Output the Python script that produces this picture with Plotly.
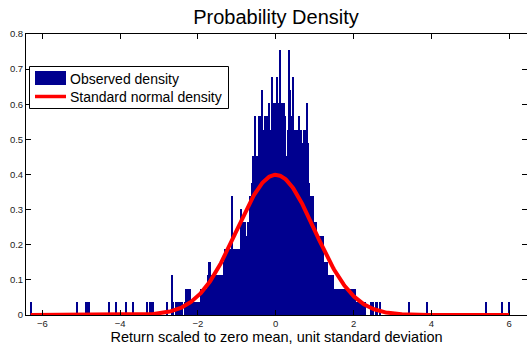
import numpy as np
import plotly.graph_objects as go

# ---- data ----
# central histogram: counts per bin, bins starting at BIN_START with width BIN_WIDTH
BIN_START = -2.66
BIN_WIDTH = 0.0257
central_counts = [
    3, 1, 0, 0, 1, 1, 1, 1, 1, 1, 1, 0, 0, 1, 2, 2, 1, 2, 2, 1,   # 172-191
    1, 1, 0, 1, 1, 1, 1, 1, 0, 2, 2, 2, 1, 2, 2, 1, 3, 4, 4, 2,   # 192-211
    3, 3, 3, 1, 3, 3, 3, 2, 3, 3, 3, 1, 4, 5, 5, 5, 4, 5, 1, 5,   # 212-231
    9, 5, 5, 5, 4, 5, 1, 5, 5, 8, 6, 7, 6, 7, 4, 6, 7, 6, 9, 7,   # 232-251
    10, 12, 12, 15, 12, 12, 12, 15, 15, 11, 17, 13, 14, 15, 6, 15, 14, 16, 13, 14,  # 252-271
    18, 14, 16, 16, 6, 18, 16, 15, 20, 16, 16, 16, 16, 15, 11, 12, 14, 20, 17, 8,   # 272-291
    15, 18, 14, 11, 14, 14, 12, 15, 13, 14, 12, 13, 14, 14, 12, 16, 13, 10, 9, 9,   # 292-311
    3, 9, 7, 7, 7, 5, 6, 3, 6, 6, 6, 6, 4, 3, 4, 4, 3, 3, 3, 3,   # 312-331
    2, 3, 1, 2, 2, 2, 1, 2, 2, 1, 2, 2, 2, 1, 2, 2, 1, 2, 2, 2,   # 332-351
    1, 2, 1, 2, 1, 1, 0, 1, 1, 0, 1, 1, 0, 1, 0, 0, 0, 0, 0, 1,   # 352-371
    1, 1, 0, 0, 1, 1, 0, 0, 1,                                     # 372-380
]
# isolated tail observations (one per bin)
tail_positions = [-6.30, -5.12, -4.88, -4.84, -4.79, -4.28, -4.11, -3.85, -3.66,
                  -3.30, -3.23, -3.19, -3.16, -2.79, 3.43, 3.88, 5.40, 5.83, 6.00]
tail_counts = [1] * len(tail_positions)
DENSITY_PER_COUNT = 0.0377

y_ticks = [0, 0.1, 0.2, 0.3, 0.4, 0.5, 0.6, 0.7, 0.8]
y_ticklabels = ["0", "0.1", "0.2", "0.3", "0.4", "0.5", "0.6", "0.7", "0.8"]
x_ticks = [-6, -4, -2, 0, 2, 4, 6]

title = "Probability Density"
xlabel = "Return scaled to zero mean, unit standard deviation"
legend_labels = ["Observed density", "Standard normal density"]

# ---- build ----
centers = [BIN_START + i * BIN_WIDTH for i in range(len(central_counts))] + tail_positions
counts = central_counts + tail_counts
density = [c * DENSITY_PER_COUNT for c in counts]

xmin, xmax = min(tail_positions), max(tail_positions)
xs = np.linspace(xmin, xmax, 600)
pdf = np.exp(-xs ** 2 / 2) / np.sqrt(2 * np.pi)

FONT = "Liberation Sans, Arial, Helvetica, sans-serif"
BLUE = "#00008F"

fig = go.Figure()
fig.add_trace(go.Bar(x=centers, y=density, width=BIN_WIDTH, name=legend_labels[0],
                     marker=dict(color=BLUE, line=dict(width=0)), showlegend=False))
fig.add_trace(go.Scatter(x=xs, y=pdf, mode="lines", name=legend_labels[1],
                         line=dict(color="red", width=4), showlegend=False))

W, H = 527, 345
L, R, T, B = 26, 0, 34, 30
pw, ph = W - L - R, H - T - B

def px(x):
    return (x - L) / pw

def py(y):
    return (H - B - y) / ph

shapes = [
    dict(type="rect", xref="paper", yref="paper", x0=px(29.5), x1=px(228.5),
         y0=py(108.5), y1=py(66.5), line=dict(color="black", width=1),
         fillcolor="white", layer="above"),
    dict(type="rect", xref="paper", yref="paper", x0=px(35), x1=px(66),
         y0=py(85), y1=py(71), line=dict(width=0), fillcolor=BLUE, layer="above"),
    dict(type="line", xref="paper", yref="paper", x0=px(35), x1=px(66),
         y0=py(96.5), y1=py(96.5), line=dict(color="red", width=3.5), layer="above"),
]
annotations = [
    dict(text=legend_labels[0], xref="paper", yref="paper", x=px(68), y=py(78.5),
         xanchor="left", yanchor="middle", showarrow=False,
         font=dict(family=FONT, size=14, color="black")),
    dict(text=legend_labels[1], xref="paper", yref="paper", x=px(68), y=py(96.5),
         xanchor="left", yanchor="middle", showarrow=False,
         font=dict(family=FONT, size=14, color="black")),
]

fig.update_layout(
    width=W, height=H,
    margin=dict(l=L, r=R, t=T, b=B, pad=0),
    paper_bgcolor="white", plot_bgcolor="white",
    title=dict(text=title, x=(276 / W), xanchor="center", y=1 - 16.5 / H, yanchor="middle",
               font=dict(family=FONT, size=20, color="black")),
    font=dict(family=FONT, color="black"),
    shapes=shapes, annotations=annotations,
    bargap=0,
    xaxis=dict(range=[-6.42, 6.46], tickvals=x_ticks, ticks="inside", ticklen=5,
               tickwidth=1, tickcolor="black", showline=True, linecolor="black",
               linewidth=1, mirror="ticks", showgrid=False, zeroline=False,
               tickfont=dict(family=FONT, size=9.5, color="#222"),
               title=dict(text=xlabel, standoff=5,
                          font=dict(family=FONT, size=14.5, color="black")),
               automargin=False),
    yaxis=dict(range=[0, 0.8], tickvals=y_ticks, ticktext=y_ticklabels,
               ticks="inside", ticklen=5, tickwidth=1, tickcolor="black",
               showline=True, linecolor="black", linewidth=1, mirror="ticks",
               showgrid=False, zeroline=False,
               tickfont=dict(family=FONT, size=9.5, color="#222"), automargin=False),
)

fig.write_html("out.html")
